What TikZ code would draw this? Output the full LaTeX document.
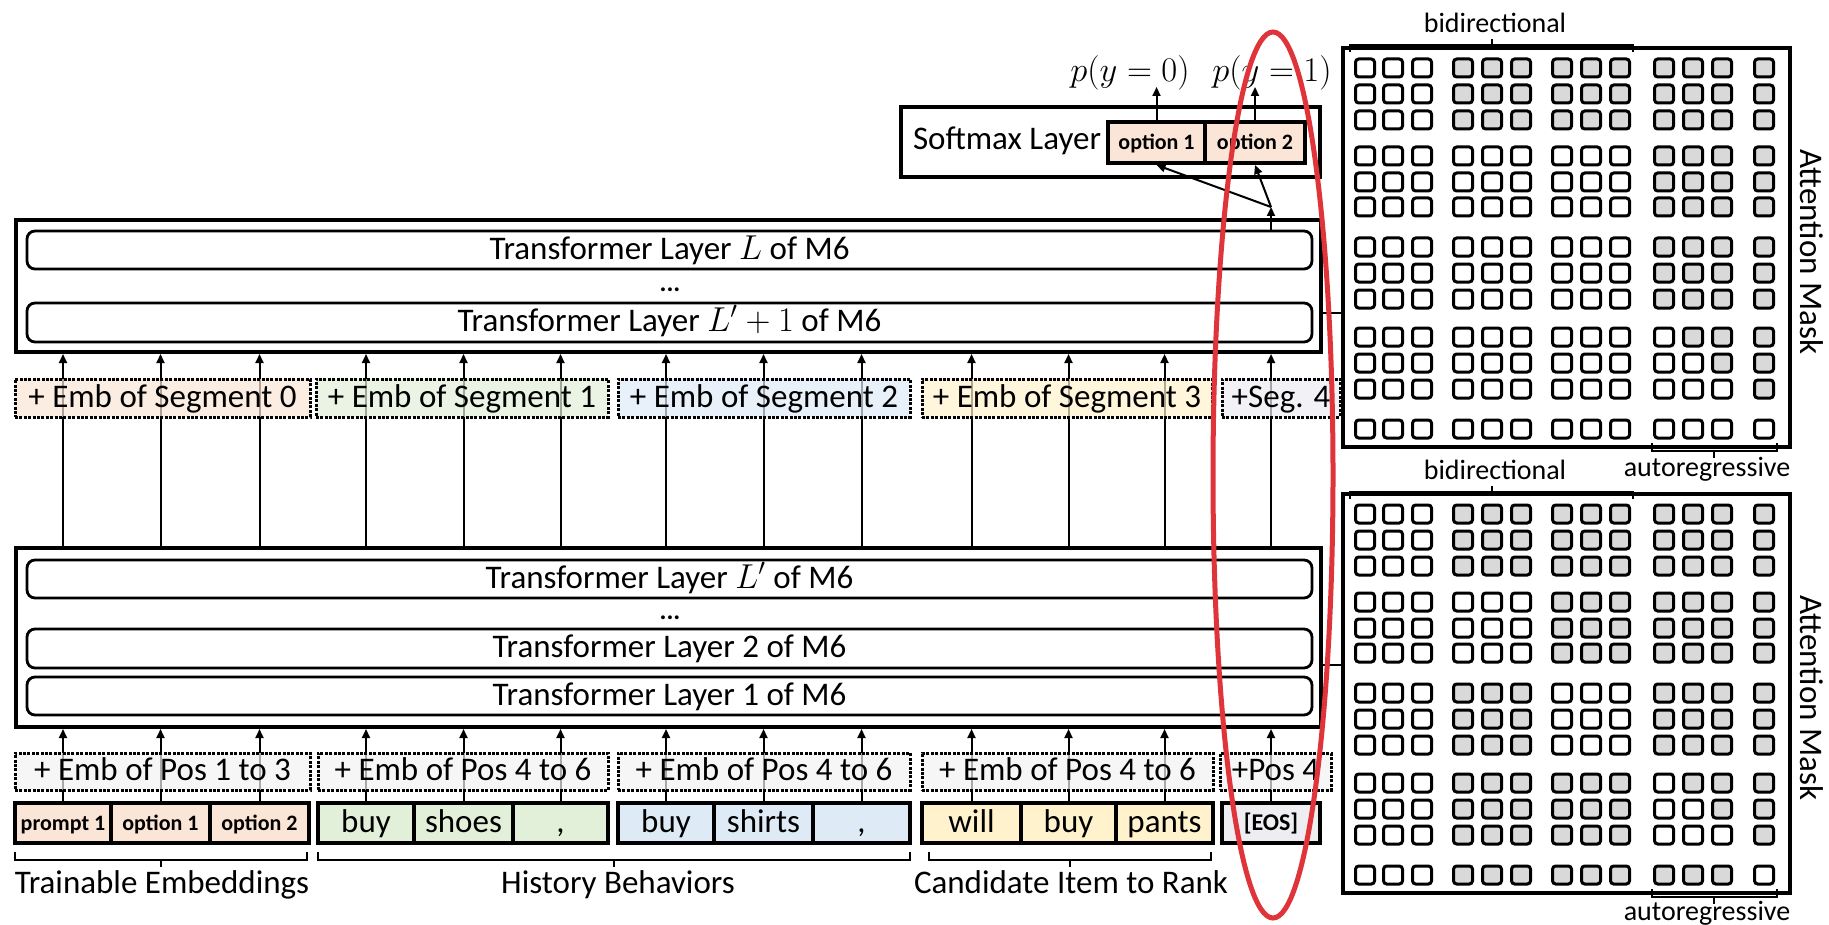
\documentclass[tikz,border=0pt]{standalone}
\usepackage{fontspec}
\setmainfont{Carlito}
\usetikzlibrary{arrows.meta}
\definecolor{peach}{HTML}{FBE5D6}
\definecolor{greenf}{HTML}{E2F0D9}
\definecolor{bluef}{HTML}{DEEBF7}
\definecolor{yellowf}{HTML}{FFF2CC}
\definecolor{grayf}{HTML}{EDEDF2}
\definecolor{posf}{HTML}{F2F2F2}
\definecolor{maskgray}{HTML}{D9D9D9}
\definecolor{ellred}{RGB}{222,52,58}
% name, style, x1, y1, x2, y2, text  (coordinates in reference pixels)
\newcommand\mkbox[7]{\node[#2, minimum width={0.5pt*(#5-#3)}, minimum height={0.5pt*(#6-#4)}] (#1) at ({(#3+#5)/2},{(#4+#6)/2}) {#7};}
\begin{document}
\begin{tikzpicture}[x=0.5pt,y=-0.5pt, font=\fontsize{16.5}{19}\selectfont,
  outerbox/.style={draw, line width=2pt, inner sep=0pt},
  layerbox/.style={draw, line width=1.4pt, rounded corners=4pt, inner sep=0pt, text height=12.5pt, text depth=3.5pt},
  tokbox/.style={draw, line width=2pt, inner sep=0pt, text height=12.5pt, text depth=3.5pt},
  smalltxt/.style={font=\fontsize{11}{13}\selectfont\bfseries, text height=9pt, text depth=1.5pt},
  dotbox/.style={draw, line width=1.5pt, dash pattern=on 1.5pt off 0.7pt, inner sep=0pt, fill opacity=0.7, text opacity=1, text height=12.5pt, text depth=3.5pt},
  dotstxt/.style={font=\fontsize{13}{14}\selectfont\bfseries, inner sep=0pt, anchor=base, text height=2pt, text depth=0pt},
  arr/.style={-{Triangle[length=4.5pt,width=4pt]}, line width=1pt},
  brace/.style={line width=1.3pt},
  cellst/.style={draw, line width=1.5pt, rounded corners=1.6pt},
  lblsmall/.style={font=\fontsize{14}{16}\selectfont},
]
\useasboundingbox (0,0) rectangle (1829,925);

% ---------- upper transformer ----------
\mkbox{up}{outerbox}{16}{220}{1321}{352}{}
\mkbox{uL}{layerbox}{27}{231}{1312}{269}{Transformer Layer $L$ of M6}
\node[dotstxt] (udots) at (670,291) {...};
\mkbox{uL1}{layerbox}{27}{303}{1312}{342}{Transformer Layer $L'+1$ of M6}

% ---------- lower transformer ----------
\mkbox{lo}{outerbox}{16}{548}{1321}{727}{}
\mkbox{lL}{layerbox}{27}{560}{1312}{598}{Transformer Layer $L'$ of M6}
\node[dotstxt] (ldots) at (670,619) {...};
\mkbox{l2}{layerbox}{27}{629}{1312}{668}{Transformer Layer 2 of M6}
\mkbox{l1}{layerbox}{27}{677}{1312}{715}{Transformer Layer 1 of M6}

% ---------- tokens ----------
\mkbox{t1}{tokbox, fill=peach, smalltxt}{15}{803}{111}{843}{prompt 1}
\mkbox{t2}{tokbox, fill=peach, smalltxt}{111}{803}{210}{843}{option 1}
\mkbox{t3}{tokbox, fill=peach, smalltxt}{210}{803}{309}{843}{option 2}
\mkbox{t4}{tokbox, fill=greenf}{318}{803}{414}{843}{buy}
\mkbox{t5}{tokbox, fill=greenf}{414}{803}{513}{843}{shoes}
\mkbox{t6}{tokbox, fill=greenf}{513}{803}{608}{843}{,}
\mkbox{t7}{tokbox, fill=bluef}{618}{803}{714}{843}{buy}
\mkbox{t8}{tokbox, fill=bluef}{714}{803}{813}{843}{shirts}
\mkbox{t9}{tokbox, fill=bluef}{813}{803}{910}{843}{,}
\mkbox{t10}{tokbox, fill=yellowf}{922}{803}{1021}{843}{will}
\mkbox{t11}{tokbox, fill=yellowf}{1021}{803}{1116}{843}{buy}
\mkbox{t12}{tokbox, fill=yellowf}{1116}{803}{1213}{843}{pants}
\mkbox{t13}{tokbox, fill=grayf, font=\fontsize{12}{14}\selectfont\bfseries, text height=9pt, text depth=2pt}{1222}{803}{1320}{843}{[EOS]}

% ---------- vertical arrows ----------
\foreach \i in {1,...,13} {
  \draw[arr] (t\i.north) -- (t\i.north |- lo.south);
  \draw[arr] (t\i.north |- lo.north) -- (t\i.north |- up.south);
}

% ---------- position embeddings ----------
\mkbox{pe1}{dotbox, fill=posf}{15}{753}{310}{790}{+ Emb of Pos 1 to 3}
\mkbox{pe2}{dotbox, fill=posf}{318}{753}{608}{790}{+ Emb of Pos 4 to 6}
\mkbox{pe3}{dotbox, fill=posf}{618}{753}{910}{790}{+ Emb of Pos 4 to 6}
\mkbox{pe4}{dotbox, fill=posf}{922}{753}{1213}{790}{+ Emb of Pos 4 to 6}
\mkbox{pe5}{dotbox, fill=posf}{1220}{753}{1331}{790}{+Pos 4}

% ---------- segment embeddings ----------
\mkbox{se0}{dotbox, fill=peach}{15}{379}{310}{417}{+ Emb of Segment 0}
\mkbox{se1}{dotbox, fill=greenf}{316}{379}{608}{417}{+ Emb of Segment 1}
\mkbox{se2}{dotbox, fill=bluef}{618}{379}{910}{417}{+ Emb of Segment 2}
\mkbox{se3}{dotbox, fill=yellowf}{922}{379}{1212}{417}{+ Emb of Segment 3}
\mkbox{se4}{dotbox, fill=grayf}{1222}{379}{1340}{417}{+Seg. 4}

% ---------- softmax ----------
\mkbox{sm}{outerbox}{901}{107}{1320}{177}{}
\node[anchor=base, inner sep=0pt] (smt) at (1007,150) {Softmax Layer};
\mkbox{o1}{tokbox, fill=peach, smalltxt}{1108}{122}{1205}{163}{option 1}
\mkbox{o2}{tokbox, fill=peach, smalltxt}{1205}{122}{1305}{163}{option 2}
\node[anchor=base, inner sep=0pt, font=\fontsize{17.5}{20}\selectfont] (py0) at (1130,82) {$p(y=0)$};
\node[anchor=base, inner sep=0pt, font=\fontsize{17.5}{20}\selectfont] (py1) at (1272,82) {$p(y=1)$};
\coordinate (a0) at (o1.north |- 0,87);
\coordinate (a1) at (o2.north |- 0,87);
\draw[arr] (o1.north) -- (a0);
\draw[arr] (o2.north) -- (a1);
\coordinate (junc) at (t13.north |- 0,207);
\draw[arr] (t13.north |- uL.north) -- (junc);
\draw[arr] (junc) -- (o1.south);
\draw[arr] (junc) -- (o2.south);

% ---------- attention masks ----------
\mkbox{m1}{outerbox}{1343}{48}{1790}{447}{}
\mkbox{m2}{outerbox}{1343}{494}{1790}{893}{}
\coordinate (k1) at (0,313);
\coordinate (k2) at (0,665);
\draw[line width=1pt] (up.east |- k1) -- (m1.west |- k1);
\draw[line width=1pt] (lo.east |- k2) -- (m2.west |- k2);

\def\colx{{1365,1393,1422,1463,1492,1521,1562,1591,1620,1664,1693,1722,1764}}
\def\rowy{{68,94,120,156,182,207,247,273,299,337,363,389,429}}
% top mask
\foreach \r/\pat in {
 1/{0,0,0,1,1,1,1,1,1,1,1,1,1},
 2/{0,0,0,1,1,1,1,1,1,1,1,1,1},
 3/{0,0,0,1,1,1,1,1,1,1,1,1,1},
 4/{0,0,0,0,0,0,0,0,0,1,1,1,1},
 5/{0,0,0,0,0,0,0,0,0,1,1,1,1},
 6/{0,0,0,0,0,0,0,0,0,1,1,1,1},
 7/{0,0,0,0,0,0,0,0,0,1,1,1,1},
 8/{0,0,0,0,0,0,0,0,0,1,1,1,1},
 9/{0,0,0,0,0,0,0,0,0,1,1,1,1},
 10/{0,0,0,0,0,0,0,0,0,0,1,1,1},
 11/{0,0,0,0,0,0,0,0,0,0,0,1,1},
 12/{0,0,0,0,0,0,0,0,0,0,0,0,1},
 13/{0,0,0,0,0,0,0,0,0,0,0,0,0}} {
  \foreach \v [count=\c] in \pat {
    \pgfmathsetmacro\cx{\colx[\c-1]}
    \pgfmathsetmacro\cy{\rowy[\r-1]}
    \ifnum\v=1
      \draw[cellst, fill=maskgray] (\cx-9.5,\cy-9) rectangle (\cx+9.5,\cy+9);
    \else
      \draw[cellst] (\cx-9.5,\cy-9) rectangle (\cx+9.5,\cy+9);
    \fi
  }
}
% bottom mask
\foreach \r/\pat in {
 1/{0,0,0,1,1,1,1,1,1,1,1,1,1},
 2/{0,0,0,1,1,1,1,1,1,1,1,1,1},
 3/{0,0,0,1,1,1,1,1,1,1,1,1,1},
 4/{0,0,0,0,0,0,1,1,1,1,1,1,1},
 5/{0,0,0,0,0,0,1,1,1,1,1,1,1},
 6/{0,0,0,0,0,0,1,1,1,1,1,1,1},
 7/{0,0,0,1,1,1,0,0,0,1,1,1,1},
 8/{0,0,0,1,1,1,0,0,0,1,1,1,1},
 9/{0,0,0,1,1,1,0,0,0,1,1,1,1},
 10/{0,0,0,1,1,1,1,1,1,0,1,1,1},
 11/{0,0,0,1,1,1,1,1,1,0,0,1,1},
 12/{0,0,0,1,1,1,1,1,1,0,0,0,1},
 13/{0,0,0,1,1,1,1,1,1,1,1,1,0}} {
  \foreach \v [count=\c] in \pat {
    \pgfmathsetmacro\cx{\colx[\c-1]}
    \pgfmathsetmacro\cy{\rowy[\r-1]+446}
    \ifnum\v=1
      \draw[cellst, fill=maskgray] (\cx-9.5,\cy-9) rectangle (\cx+9.5,\cy+9);
    \else
      \draw[cellst] (\cx-9.5,\cy-9) rectangle (\cx+9.5,\cy+9);
    \fi
  }
}

% mask braces and labels
\draw[brace] (1350,52) -- (1350,45) -- (1633,45) -- (1633,52);
\draw[brace] (1492,45) -- (1492,39);
\node[anchor=base, lblsmall, inner sep=0pt] (bd1) at (1495,33) {bidirectional};
\draw[brace] (1652,443) -- (1652,451) -- (1777,451) -- (1777,443);
\draw[brace] (1714,451) -- (1714,458);
\node[anchor=base, lblsmall, inner sep=0pt] (ar1) at (1707,476) {autoregressive};
\draw[brace] (1350,499) -- (1350,492) -- (1633,492) -- (1633,499);
\draw[brace] (1492,492) -- (1492,486);
\node[anchor=base, lblsmall, inner sep=0pt] (bd2) at (1495,479) {bidirectional};
\draw[brace] (1652,889) -- (1652,897) -- (1777,897) -- (1777,889);
\draw[brace] (1714,897) -- (1714,904);
\node[anchor=base, lblsmall, inner sep=0pt] (ar2) at (1707,920) {autoregressive};
\node[rotate=-90, inner sep=0pt] (am1) at (1812,252) {Attention Mask};
\node[rotate=-90, inner sep=0pt] (am2) at (1812,698) {Attention Mask};

% ---------- bottom braces ----------
\draw[brace] (15,852) -- (15,860) -- (307,860) -- (307,852);
\draw[brace] (161,860) -- (161,867);
\draw[brace] (318,852) -- (318,860) -- (910,860) -- (910,852);
\draw[brace] (614,860) -- (614,867);
\draw[brace] (929,852) -- (929,860) -- (1211,860) -- (1211,852);
\draw[brace] (1070,860) -- (1070,867);
\node[anchor=base, inner sep=0pt] (lb1) at (162,893) {Trainable Embeddings};
\node[anchor=base, inner sep=0pt] (lb2) at (618,893) {History Behaviors};
\node[anchor=base, inner sep=0pt] (lb3) at (1071,893) {Candidate Item to Rank};

% ---------- red ellipse ----------
\draw[ellred, line width=2.5pt] (1273,475) ellipse [x radius=30pt, y radius=221.5pt];
\end{tikzpicture}
\end{document}
